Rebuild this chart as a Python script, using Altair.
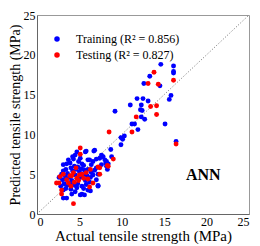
import altair as alt
import pandas as pd

train_x = [14.6,16.1,16.1,16.1,13.3,12.6,14.5,15.8,15.6,11.8,12.5,13.1,11.0,12.3,12.2,12.4,9.2,12.3,12.7,15.1,11.2,11.5,11.9,9.9,10.1,10.3,9.9,8.7,7.8,8.0,8.1,8.3,16.4,
           4.7,5.7,6.7,5.8,6.8,4.2,4.5,5.1,6.0,6.2,7.4,7.6,8.8,8.2,3.1,3.5,3.9,5.3,6.4,7.6,8.2,8.4,3.1,3.4,4.0,4.4,4.8,5.2,5.6,6.0,6.4,6.8,7.2,7.0,2.9,3.3,3.6,4.2,4.6,5.0,5.4,5.9,6.3,6.6,3.0,3.4,3.8,4.1,4.5,5.1,5.7,6.2,7.0,3.2,3.6,4.0,4.4,4.8,5.3,5.8,7.2,7.2,3.1,3.4,4.0,4.5,4.7,5.5,6.0,3.1,3.5,4.1,5.1,5.6,5.3,6.3,2.8,2.6,3.7,4.9,5.5,6.6,7.0,4.3]
train_y = [18.8,18.6,17.9,17.7,17.3,16.4,16.1,14.9,14.4,14.5,14.5,14.2,13.7,13.7,13.1,13.0,12.9,12.2,11.9,11.3,11.3,11.3,10.6,9.6,9.4,9.8,8.7,8.1,7.2,6.8,6.4,5.6,9.1,
           7.8,7.8,7.9,7.9,8.0,7.2,7.4,7.0,6.8,6.8,7.0,7.4,7.2,6.6,6.2,6.3,6.4,6.3,6.2,6.2,6.0,6.3,5.4,5.6,5.8,6.0,5.9,5.7,5.5,5.6,5.2,5.5,5.0,5.8,5.0,4.8,5.1,5.4,5.6,5.3,4.9,4.8,4.6,4.9,4.3,4.4,4.6,4.2,4.9,4.6,4.2,4.0,4.3,3.8,3.6,3.9,3.6,3.8,3.5,3.7,3.6,3.5,3.0,3.2,3.1,2.8,3.3,3.2,3.0,2.0,2.0,2.5,2.4,2.4,2.5,2.9,3.5,4.6,6.8,6.6,6.1,6.6,6.9,6.9]

test_x = [13.8,16.1,14.3,13.1,14.1,13.4,14.1,11.7,11.2,8.5,9.0,8.3,16.4,5.1,5.1,7.4,8.4,7.2,2.7,2.3,2.6,3.9,4.3,5.3,5.8,6.0,3.7,4.9,2.9,4.3,6.2,3.1,4.1,4.7,5.5,6.6,7.4,2.9,4.4,5.0,3.5,6.3,4.6,4.0]
test_y = [17.8,16.8,16.3,16.4,13.6,13.5,12.5,12.2,10.3,10.3,6.9,6.1,8.8,8.3,7.5,5.8,6.0,5.9,4.7,3.9,3.9,4.8,5.2,5.0,5.2,4.4,3.9,4.2,3.0,1.3,3.4,5.0,4.8,4.5,4.5,3.9,5.0,2.5,4.0,4.9,4.3,5.6,5.8,3.5]

series = ["Training (R\u00b2 = 0.856)", "Testing (R\u00b2 = 0.827)"]
colors = ["#0000FF", "#FF0000"]
ticks = [0, 5, 10, 15, 20, 25]

df = pd.concat([
    pd.DataFrame({"x": train_x, "y": train_y, "set": series[0], "order": 0}),
    pd.DataFrame({"x": test_x, "y": test_y, "set": series[1], "order": 1}),
])

font = "Liberation Serif"
sc = alt.Scale(domain=[0, 25], nice=False)

points = alt.Chart(df).mark_circle(size=24, opacity=1).encode(
    x=alt.X("x:Q", scale=sc, title="Actual tensile strength (MPa)",
            axis=alt.Axis(values=ticks, tickCount=6, format="d",
                          titleFontSize=15, titlePadding=1)),
    y=alt.Y("y:Q", scale=sc, title="Predicted tensile strength (MPa)",
            axis=alt.Axis(values=ticks, tickCount=6, format="d",
                          titleFontSize=14, titlePadding=1)),
    color=alt.Color("set:N", scale=alt.Scale(domain=series, range=colors),
                    legend=alt.Legend(title=None, orient="none", legendX=14, legendY=18,
                                      labelFont=font, labelFontSize=12, labelColor="black",
                                      symbolSize=30, symbolType="circle", symbolOpacity=1,
                                      rowPadding=4, labelOffset=13)),
    order=alt.Order("order:Q"),
)

diag = alt.Chart(pd.DataFrame({"x": [0, 25], "y": [0, 25]})).mark_line(
    color="#444444", strokeWidth=0.8, strokeDash=[1, 2]).encode(x="x:Q", y="y:Q")

label = alt.Chart(pd.DataFrame({"x": [19.6], "y": [4.9], "t": ["ANN"]})).mark_text(
    font=font, fontSize=16, fontWeight="bold", color="black").encode(
    x="x:Q", y="y:Q", text="t:N")

chart = alt.layer(diag, points, label).properties(
    width=212, height=199,
    padding={"left": 29, "top": 7, "right": 3, "bottom": 30},
    autosize=alt.AutoSizeParams(type="none"),
).configure_view(stroke="#999999", strokeWidth=1).configure_axis(
    grid=False, domainColor="#666666", ticks=False, labelOverlap=False,
    labelFont=font, labelFontSize=12, labelColor="black", labelPadding=2,
    titleFont=font, titleFontWeight="normal", titleColor="black",
)

chart.save("out.html", embed_options={"renderer": "svg", "actions": False})
